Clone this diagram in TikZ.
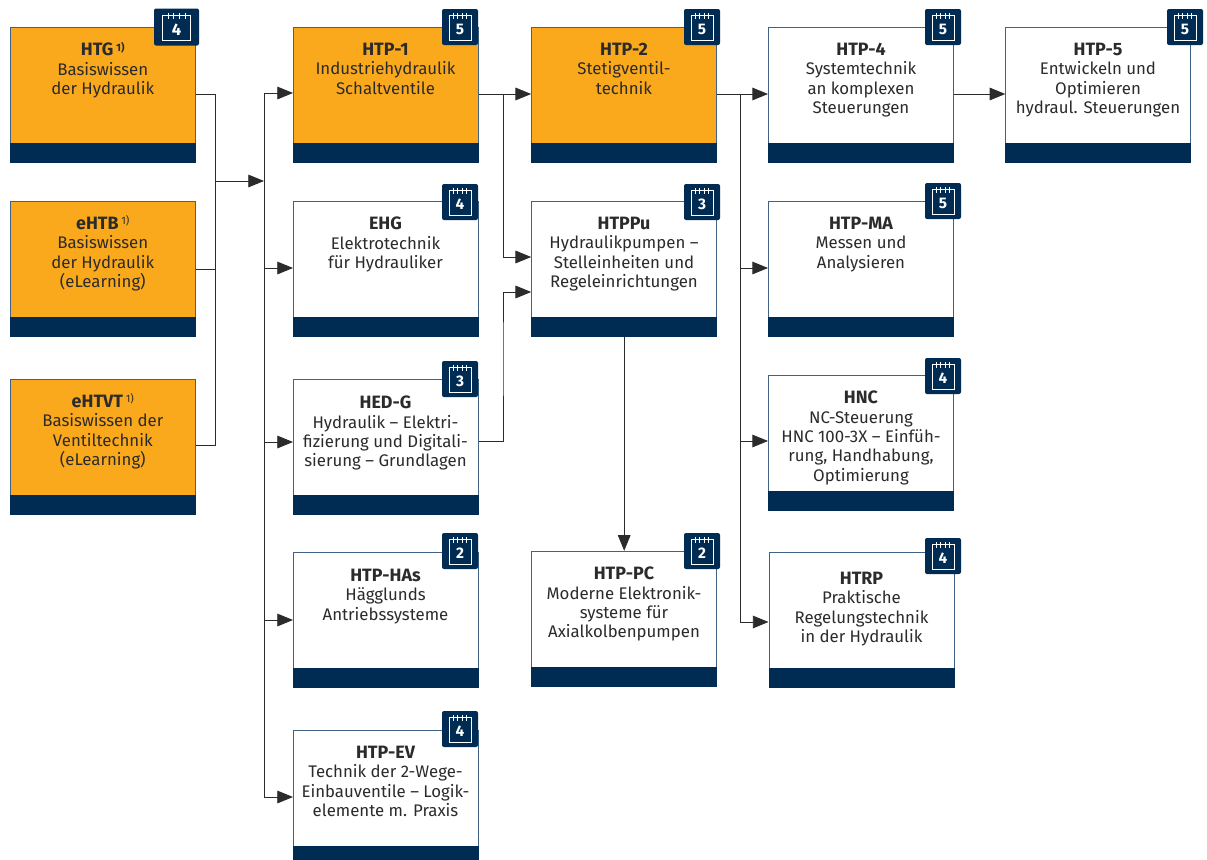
\documentclass[tikz,border=0pt]{standalone}
\usepackage{fontspec}
\setmainfont{Fira Sans}
\usetikzlibrary{arrows.meta,calc}
\definecolor{navy}{HTML}{002B52}
\definecolor{amber}{HTML}{FBA91C}
\definecolor{ink}{HTML}{2B2B2B}
\definecolor{edgeblue}{HTML}{3F6285}
\newcommand{\ttl}[1]{{\fontsize{13.4}{14.45}\selectfont\bfseries #1}}
\newcommand{\fnmark}[1]{\,{\fontsize{8}{8}\selectfont\raisebox{3.5pt}[0pt][0pt]{#1}}}
\newcommand{\dgt}[1]{\raisebox{-5.5pt}[0pt][0pt]{#1}}
\newcommand{\dgtw}[1]{\raisebox{-6.3pt}[0pt][0pt]{#1}}
\tikzset{
  x=0.75pt,y=-0.75pt,
  card/.style={rectangle,draw=edgeblue,line width=0.7pt,minimum width=138.8pt,minimum height=101.6pt,inner sep=0pt},
  plain/.style={card,fill=white},
  gold/.style={card,fill=amber},
  cardtext/.style={anchor=center,align=center,text=ink,font=\fontsize{12.6}{14.45}\selectfont,inner sep=0pt},
  badge/.style={rectangle,fill=navy,rounded corners=1.5pt,minimum width=27pt,minimum height=27pt,inner sep=0pt,text=white,font=\fontsize{11.5}{12}\selectfont\bfseries},
  widebadge/.style={badge,minimum width=33.75pt,minimum height=27.75pt,font=\fontsize{12.5}{14}\selectfont\bfseries},
  link/.style={draw=ink,line width=0.72pt},
  arrowlink/.style={link,-{Triangle[length=11.8pt,width=9.5pt,color=ink]}},
}
\newcommand{\cardband}[1]{\fill[navy] (#1.south west) rectangle ([yshift=15pt]#1.south east);}
\newcommand{\calicon}[2]{%
  \draw[white,line width=0.65pt] ($(#1.center)+(-#2,-12)$) rectangle ($(#1.center)+(#2,13)$);
  \foreach \tk in {-0.6,-0.2,0.2,0.6}
    \draw[white,line width=0.55pt] ($(#1.center)+({\tk*#2},-14)$) -- ($(#1.center)+({\tk*#2},-8)$);
  \draw[white,line width=0.55pt] ($(#1.center)+({-0.75*#2},-11.5)$) -- ($(#1.center)+({0.75*#2},-11.5)$);
}
\begin{document}
\begin{tikzpicture}
\useasboundingbox (0,0) rectangle (1207,860);
\clip (0,0) rectangle (1207,860);
% cards
\node[gold]  (htg)   at (102.8,95)  {};
\node[gold]  (ehtb)  at (102.8,269) {};
\node[gold]  (ehtvt) at (102.8,447) {};
\node[gold]  (htp1)  at (386,95)  {};
\node[plain] (ehg)   at (386,269) {};
\node[plain] (hedg)  at (386,447) {};
\node[plain] (htpha) at (386,620) {};
\node[plain] (htpev) at (386,798) {};
\node[gold]  (htp2)  at (624.2,95)    {};
\node[plain] (htppu) at (624.2,269)   {};
\node[plain] (htppc) at (624.2,619)   {};
\node[plain] (htp4)  at (861,95)    {};
\node[plain] (htpma) at (861,269)   {};
\node[plain] (hnc)   at (861,443)   {};
\node[plain] (htrp)  at (861.5,620) {};
\node[plain] (htp5)  at (1098.3,95)   {};
\cardband{htg}\cardband{ehtb}\cardband{ehtvt}\cardband{htp1}\cardband{ehg}\cardband{hedg}\cardband{htpha}\cardband{htpev}
\cardband{htp2}\cardband{htppu}\cardband{htppc}\cardband{htp4}\cardband{htpma}\cardband{hnc}\cardband{htrp}\cardband{htp5}
% texts
\node[cardtext,anchor=north] (t1) at (102.8,43) {\ttl{HTG}\fnmark{\textbf{1)}}\\Basiswissen\\der Hydraulik};
\node[cardtext,anchor=north] (t2) at (102.8,217) {\ttl{eHTB}\fnmark{1)}\\Basiswissen\\der Hydraulik\\(eLearning)};
\node[cardtext,anchor=north] (t3) at (102.8,395) {\ttl{eHTVT}\fnmark{1)}\\Basiswissen der\\Ventiltechnik\\(eLearning)};
\node[cardtext,anchor=north] (t4) at (385.5,43) {\ttl{HTP-1}\\Industriehydraulik\\Schaltventile};
\node[cardtext,anchor=north] (t5) at (385.5,217) {\ttl{EHG}\\Elektrotechnik\\für Hydrauliker};
\node[cardtext,anchor=north] (t6) at (385.5,396) {\ttl{HED-G}\\Hydraulik – Elektri-\\fizierung und Digitali-\\sierung – Grundlagen};
\node[cardtext,anchor=north] (t7) at (385.5,569) {\ttl{HTP-HAs}\\Hägglunds\\Antriebssysteme};
\node[cardtext,anchor=north] (t8) at (385.5,746) {\ttl{HTP-EV}\\Technik der 2-Wege-\\Einbauventile – Logik-\\elemente m. Praxis};
\node[cardtext,anchor=north] (t9) at (624,43) {\ttl{HTP-2}\\Stetigventil-\\technik};
\node[cardtext,anchor=north] (t10) at (624,217) {\ttl{HTPPu}\\Hydraulikpumpen –\\Stelleinheiten und\\Regeleinrichtungen};
\node[cardtext,anchor=north] (t11) at (624,567) {\ttl{HTP-PC}\\Moderne Elektronik-\\systeme für\\Axialkolbenpumpen};
\node[cardtext,anchor=north] (t12) at (861,43) {\ttl{HTP-4}\\Systemtechnik\\an komplexen\\Steuerungen};
\node[cardtext,anchor=north] (t13) at (861,217) {\ttl{HTP-MA}\\Messen und\\Analysieren};
\node[cardtext,anchor=north] (t14) at (861,391) {\ttl{HNC}\\NC-Steuerung\\HNC 100-3X – Einfüh-\\rung, Handhabung,\\Optimierung};
\node[cardtext,anchor=north] (t15) at (861.5,572) {\ttl{HTRP}\\Praktische\\Regelungstechnik\\in der Hydraulik};
\node[cardtext,anchor=north] (t16) at (1098,43) {\ttl{HTP-5}\\Entwickeln und\\Optimieren\\hydraul. Steuerungen};
% badges
\node[widebadge] (b1) at (176.5,27) {\dgtw{4}};
\node[badge] (b4) at (460,27) {\dgt{5}};
\node[badge] (b5) at (460,202) {\dgt{4}};
\node[badge] (b6) at (460,379) {\dgt{3}};
\node[badge] (b7) at (460,551) {\dgt{2}};
\node[badge] (b8) at (460,729) {\dgt{4}};
\node[badge] (b9) at (702,27) {\dgt{5}};
\node[badge] (b10) at (702,202) {\dgt{3}};
\node[badge] (b11) at (702,551) {\dgt{2}};
\node[badge] (b12) at (943,27) {\dgt{5}};
\node[badge] (b13) at (943,201) {\dgt{5}};
\node[badge] (b14) at (943,376) {\dgt{4}};
\node[badge] (b15) at (943,556) {\dgt{4}};
\node[badge] (b16) at (1185,27) {\dgt{5}};
\calicon{b1}{14}
\foreach \bb in {b4,b5,b6,b7,b8,b9,b10,b11,b12,b13,b14,b15,b16} {\calicon{\bb}{11}}
% connector points
\coordinate (joinA) at (215,181);
\coordinate (busA) at (264,181);
\coordinate (splitB) at (503,94);
\coordinate (splitC) at (740,94);
% connectors
\draw[link] (htg.east |- 0,94) -| (joinA);
\draw[link] (ehtb.east) -| (joinA);
\draw[link] (ehtvt.east |- 0,445) -| (joinA);
\draw[arrowlink] (joinA) -- (busA);
\draw[arrowlink] (busA) |- (htp1.west |- 0,93);
\draw[arrowlink] (busA) |- (ehg.west |- 0,268);
\draw[arrowlink] (busA) |- (hedg.west |- 0,442);
\draw[arrowlink] (busA) |- (htpha.west);
\draw[arrowlink] (busA) |- (htpev.west |- 0,797);
\draw[arrowlink] (htp1.east |- 0,94) -- (htp2.west |- 0,94);
\draw[arrowlink] (splitB) |- (htppu.west |- 0,257);
\draw[arrowlink] (hedg.east |- 0,441) -| (splitB |- 0,351) |- (htppu.west |- 0,292);
\draw[arrowlink] (htppu.south) -- (htppc.north);
\draw[arrowlink] (htp2.east |- 0,94) -- (htp4.west |- 0,94);
\draw[arrowlink] (splitC) |- (htpma.west |- 0,268);
\draw[arrowlink] (splitC) |- (hnc.west |- 0,441);
\draw[arrowlink] (splitC) |- (htrp.west |- 0,622);
\draw[arrowlink] (htp4.east |- 0,94) -- (htp5.west |- 0,94);
\end{tikzpicture}
\end{document}
